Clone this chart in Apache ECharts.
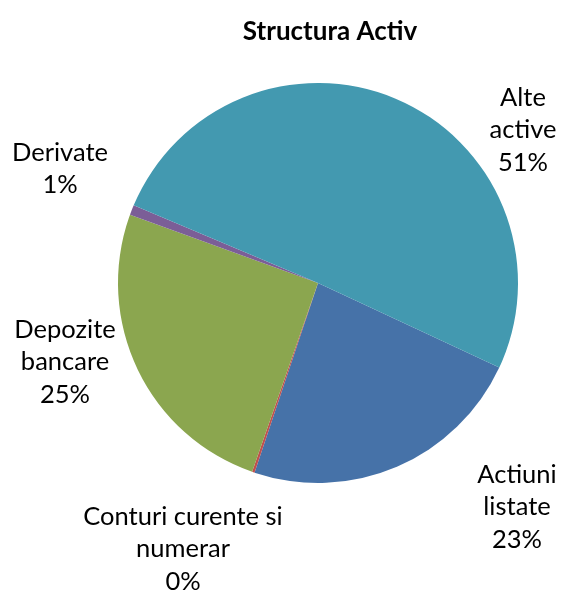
<!DOCTYPE html>
<html>
<head>
<meta charset="utf-8">
<script src="https://cdn.jsdelivr.net/npm/echarts@6/dist/echarts.min.js"></script>
<style>
  html, body { margin: 0; padding: 0; background: #fff; }
  #main { width: 563px; height: 592px; }
</style>
</head>
<body>
<div id="main"></div>
<script>
var categories = ['Actiuni\nlistate', 'Conturi curente si\nnumerar', 'Depozite\nbancare', 'Derivate', 'Alte\nactive'];
var values = [23.2, 0.2, 25.2, 0.8, 50.6];
var colors = ['#4672A8', '#C0504D', '#8BA64F', '#7B5E97', '#4399B0'];
// label centres (x, y) per slice, placed like the original best-fit labels
var labelPos = [[517, 507], [183, 549], [65, 362], [60, 169], [523, 130]];

var myChart = echarts.init(document.getElementById('main'));
var total = values.reduce(function (a, b) { return a + b; }, 0);
var data = [];
for (var i = 0; i < categories.length; i++) {
    data.push({ name: categories[i], value: values[i], itemStyle: { color: colors[i] } });
}

var option = {
    animation: false,
    title: {
        text: 'Structura Activ',
        left: 325,
        textAlign: 'center',
        top: 14,
        textStyle: { fontFamily: 'Lato', fontWeight: 'bold', fontSize: 26, color: '#000' }
    },
    series: [{
        type: 'pie',
        center: [318, 283],
        radius: 200,
        startAngle: -25,
        clockwise: true,
        data: data,
        label: {
            show: true,
            position: 'outside',
            formatter: function (p) {
                return p.name + '\n' + Math.round(p.value / total * 100) + '%';
            },
            fontFamily: 'Lato',
            fontSize: 25.5,
            lineHeight: 32.5,
            color: '#000',
            align: 'center',
            overflow: 'none',
            width: 300
        },
        labelLine: { show: false },
        labelLayout: function (params) {
            var p = labelPos[params.dataIndex];
            return { x: p[0], y: p[1], align: 'center', verticalAlign: 'middle' };
        },
        emphasis: { disabled: true }
    }]
};
myChart.setOption(option);
</script>
</body>
</html>
